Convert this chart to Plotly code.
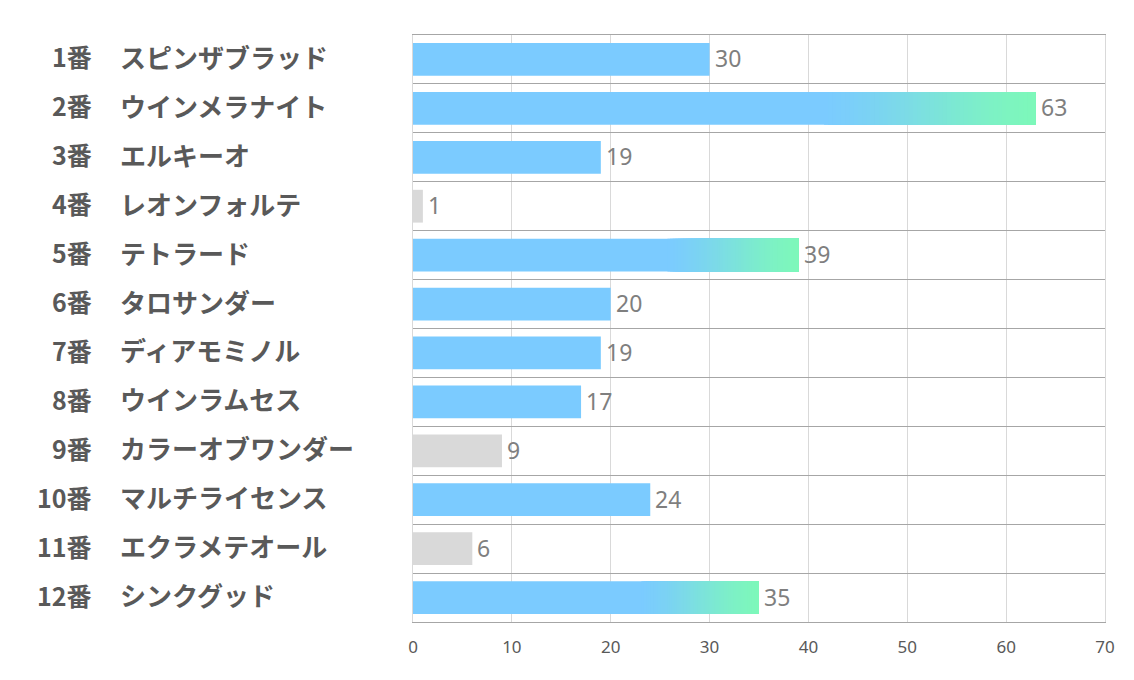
import plotly.graph_objects as go

# ---- data ----
numbers = ["1番", "2番", "3番", "4番", "5番", "6番", "7番", "8番", "9番", "10番", "11番", "12番"]
names = ["スピンザブラッド", "ウインメラナイト", "エルキーオ", "レオンフォルテ", "テトラード",
         "タロサンダー", "ディアモミノル", "ウインラムセス", "カラーオブワンダー",
         "マルチライセンス", "エクラメテオール", "シンクグッド"]
values = [30, 63, 19, 1, 39, 20, 19, 17, 9, 24, 6, 35]
x_ticks = [0, 10, 20, 30, 40, 50, 60, 70]

# ---- styling ----
BLUE = (123, 203, 255)
GREEN = (125, 248, 186)
GRAY = "#d9d9d9"
GRAD_START = 0.66
N_SEG = 50
BAR_W = 0.67

cats = [f"{n} {m}" for n, m in zip(numbers, names)]
order = sorted(range(len(values)), key=lambda i: values[i], reverse=True)
top3 = set(order[:3])
bottom3 = set(order[-3:])

def rgb(c):
    return f"rgb({c[0]},{c[1]},{c[2]})"

fig = go.Figure()

# full bar (blue or gray)
base_col = [GRAY if i in bottom3 else rgb(BLUE) for i in range(len(values))]
fig.add_trace(go.Bar(
    y=cats, x=values, base=[0] * len(values), orientation="h",
    marker=dict(color=base_col, line=dict(width=0)), width=BAR_W,
    hoverinfo="skip", showlegend=False))

# gradient tail on the top-3 bars: each segment runs to the bar end, later ones on top
g_idx = [i for i in range(len(values)) if i in top3]
for s in range(N_SEG):
    f0 = GRAD_START + (1 - GRAD_START) * s / N_SEG
    u = (s + 0.5) / N_SEG
    t = u * u * (3 - 2 * u) * 0.5 + u * 0.5   # soft start / end
    col = tuple(round(BLUE[k] + (GREEN[k] - BLUE[k]) * t) for k in range(3))
    fig.add_trace(go.Bar(
        y=[cats[i] for i in g_idx],
        x=[values[i] * (1 - f0) for i in g_idx],
        base=[values[i] * f0 for i in g_idx],
        orientation="h",
        marker=dict(color=rgb(col), line=dict(width=0)), width=BAR_W,
        hoverinfo="skip", showlegend=False))

# value labels
for c, v in zip(cats, values):
    fig.add_annotation(x=v, xref="x", y=c, yref="y", text=str(v), showarrow=False,
                       xanchor="left", xshift=3, yshift=1,
                       font=dict(family="Noto Sans", size=23, color="#7f7f7f"))

# category labels (two columns)
LBL_FONT = dict(family="Noto Sans CJK JP", size=25, color="#595959", weight="bold")
for c, n, m in zip(cats, numbers, names):
    fig.add_annotation(x=0, xref="paper", y=c, yref="y", text=n, showarrow=False,
                       xanchor="right", xshift=-319, yshift=3, font=LBL_FONT)
    fig.add_annotation(x=0, xref="paper", y=c, yref="y", text=m, showarrow=False,
                       xanchor="left", xshift=-295, yshift=3,
                       font=dict(LBL_FONT, size=26))

fig.update_layout(
    width=1134, height=680,
    margin=dict(l=413, r=29, t=35, b=58),
    plot_bgcolor="white", paper_bgcolor="white",
    barmode="overlay",
    xaxis=dict(range=[0, 70], tickvals=x_ticks, showgrid=True, gridcolor="#d9d9d9",
               gridwidth=1, zeroline=False, showline=True, linecolor="#a6a6a6",
               mirror=True, ticks="", ticklen=0, ticklabelstandoff=10,
               tickfont=dict(family="Noto Sans", size=17, color="#595959")),
    yaxis=dict(range=[len(values) - 0.5, -0.5], showticklabels=False, showgrid=True,
               tickson="boundaries", gridcolor="#a6a6a6", gridwidth=1,
               ticks="", showline=True, linecolor="#d9d9d9", mirror=True,
               categoryorder="array", categoryarray=cats),
)

fig.write_html("out.html")
